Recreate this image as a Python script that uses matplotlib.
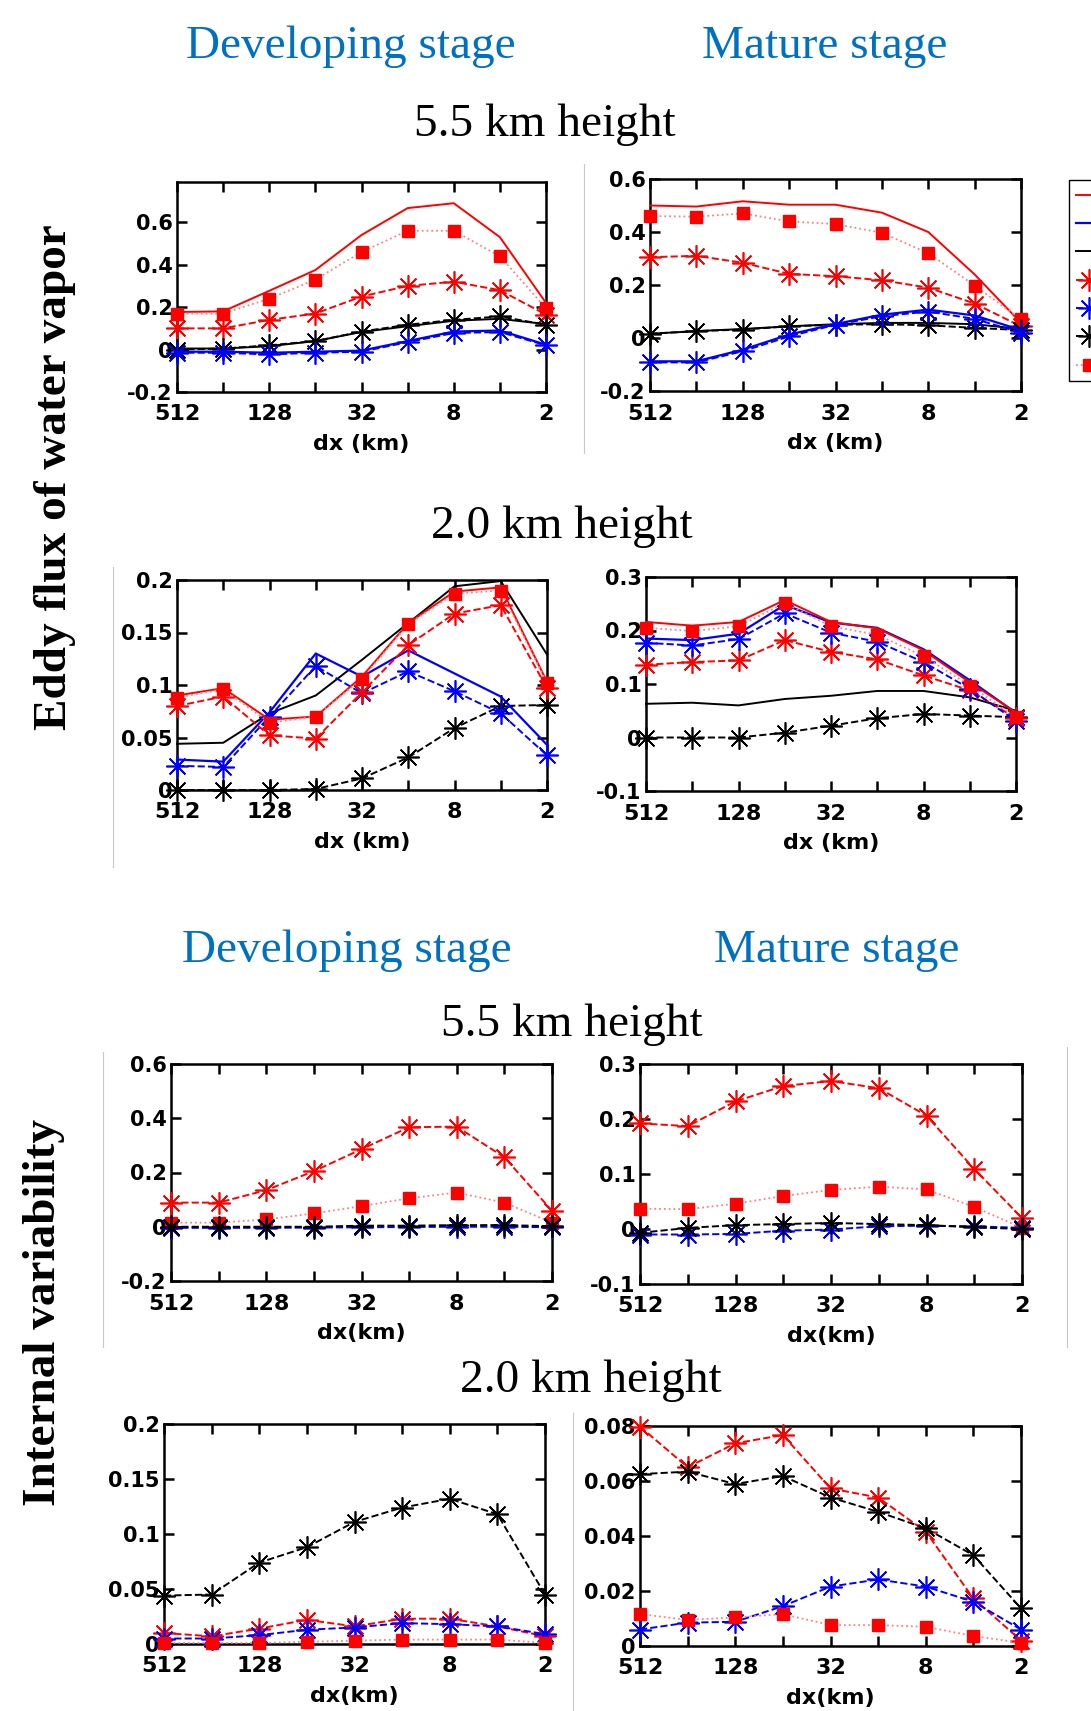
import matplotlib; matplotlib.use("Agg")
import matplotlib.pyplot as plt
from matplotlib.lines import Line2D

W,H=1091,1711
dx=[512,256,128,64,32,16,8,4,2]
xlab=["512","","128","","32","","8","","2"]

# eddy flux of water vapor, 5.5 km, developing stage
ef55d_red  =[0.177,0.18,0.277,0.375,0.54,0.667,0.69,0.53,0.22]
ef55d_blue =[-0.01,-0.01,-0.015,-0.01,-0.005,0.04,0.085,0.09,0.023]
ef55d_black=[0.005,0.005,0.016,0.04,0.083,0.11,0.136,0.145,0.12]
ef55d_red_a=[0.10,0.10,0.14,0.17,0.25,0.30,0.32,0.28,0.165]
ef55d_blue_a=[-0.015,-0.015,-0.023,-0.015,-0.01,0.035,0.078,0.083,0.02]
ef55d_black_a=[0.0,0.005,0.02,0.04,0.085,0.117,0.14,0.156,0.117]
ef55d_red_s=[0.17,0.17,0.24,0.33,0.46,0.56,0.56,0.44,0.195]
# 5.5 km, mature stage
ef55m_red  =[0.50,0.496,0.516,0.503,0.503,0.473,0.40,0.24,0.057]
ef55m_blue =[-0.088,-0.088,-0.044,0.013,0.053,0.088,0.107,0.085,0.03]
ef55m_black=[0.016,0.026,0.034,0.044,0.052,0.057,0.057,0.052,0.034]
ef55m_red_a=[0.305,0.31,0.284,0.242,0.233,0.218,0.19,0.13,0.044]
ef55m_blue_a=[-0.092,-0.092,-0.05,0.006,0.05,0.082,0.10,0.072,0.02]
ef55m_black_a=[0.016,0.026,0.032,0.044,0.05,0.052,0.048,0.038,0.03]
ef55m_red_s=[0.46,0.458,0.47,0.44,0.43,0.397,0.32,0.198,0.07]
# 2.0 km, developing stage
ef20d_red  =[0.09,0.097,0.067,0.07,0.108,0.159,0.189,0.193,0.103]
ef20d_blue =[0.029,0.027,0.074,0.13,0.108,0.133,0.111,0.089,0.043]
ef20d_black=[0.044,0.045,0.073,0.09,0.124,0.159,0.194,0.199,0.129]
ef20d_red_a=[0.08,0.089,0.052,0.049,0.093,0.138,0.168,0.176,0.097]
ef20d_blue_a=[0.023,0.022,0.07,0.118,0.092,0.113,0.094,0.073,0.033]
ef20d_black_a=[0.0,0.0,0.0,0.001,0.011,0.031,0.059,0.08,0.081]
ef20d_red_s=[0.088,0.096,0.064,0.07,0.106,0.158,0.187,0.19,0.102]
# 2.0 km, mature stage
ef20m_red  =[0.216,0.209,0.216,0.257,0.216,0.204,0.163,0.103,0.047]
ef20m_blue =[0.185,0.182,0.194,0.248,0.215,0.205,0.165,0.107,0.046]
ef20m_black=[0.063,0.065,0.06,0.072,0.078,0.087,0.087,0.075,0.05]
ef20m_red_a=[0.136,0.141,0.144,0.182,0.16,0.146,0.116,0.088,0.036]
ef20m_blue_a=[0.177,0.172,0.184,0.232,0.196,0.179,0.141,0.091,0.031]
ef20m_black_a=[0.0,0.0,0.0,0.009,0.022,0.036,0.044,0.041,0.038]
ef20m_red_s=[0.205,0.199,0.208,0.251,0.208,0.192,0.152,0.097,0.038]

# internal variability, 5.5 km, developing stage
iv55d_red_a=[0.089,0.089,0.135,0.205,0.286,0.367,0.369,0.256,0.059]
iv55d_blue_a=[-0.004,-0.004,-0.004,-0.003,-0.002,-0.001,0.0,0.0,-0.002]
iv55d_black_a=[0.0,0.0,0.0,0.0,0.004,0.004,0.006,0.006,0.002]
iv55d_red_s=[0.015,0.015,0.027,0.049,0.076,0.105,0.126,0.089,0.015]
# 5.5 km, mature stage
iv55m_red_a=[0.192,0.187,0.232,0.26,0.269,0.256,0.206,0.109,0.02]
iv55m_blue_a=[-0.01,-0.01,-0.009,-0.003,-0.001,0.005,0.006,0.005,0.002]
iv55m_black_a=[-0.007,0.002,0.007,0.009,0.011,0.009,0.007,0.003,0.0]
iv55m_red_s=[0.037,0.036,0.046,0.06,0.071,0.077,0.072,0.04,0.002]
# 2.0 km, developing stage
iv20d_red_a=[0.01,0.007,0.014,0.022,0.016,0.023,0.023,0.016,0.007]
iv20d_blue_a=[0.005,0.005,0.008,0.013,0.015,0.019,0.018,0.016,0.009]
iv20d_black_a=[0.044,0.045,0.074,0.088,0.111,0.124,0.132,0.118,0.045]
iv20d_red_s=[0.001,0.001,0.001,0.002,0.003,0.004,0.004,0.004,0.001]
# 2.0 km, mature stage
iv20m_red_a=[0.0798,0.065,0.0737,0.0767,0.0573,0.054,0.0416,0.0173,0.002]
iv20m_blue_a=[0.006,0.0085,0.0088,0.0145,0.0216,0.0242,0.0216,0.0161,0.006]
iv20m_black_a=[0.0625,0.0634,0.0589,0.0618,0.054,0.0488,0.0428,0.033,0.0137]
iv20m_red_s=[0.0116,0.0095,0.0104,0.0116,0.0076,0.0076,0.007,0.0036,0.0012]

AST=(8,2,0)
STY={"red":dict(color="red",ls="-",lw=1.4),
     "blue":dict(color="blue",ls="-",lw=1.6),
     "black":dict(color="black",ls="-",lw=1.4),
     "red_a":dict(color="red",ls="--",lw=1.4,marker=AST,ms=16,mew=1.2),
     "blue_a":dict(color="blue",ls="--",lw=1.4,marker=AST,ms=16,mew=1.2),
     "black_a":dict(color="black",ls="--",lw=1.4,marker=AST,ms=16,mew=1.2),
     "red_s":dict(color="#ff8080",ls=":",lw=1.3,marker="s",ms=9,mfc="red",mec="red")}

SANS="DejaVu Sans"; SERIF="Liberation Serif"
fig=plt.figure(figsize=(W/100,H/100),dpi=100)

def panel(box,ylim,yticks,series,xl):
    L,T,R,B=box
    ax=fig.add_axes([L/W,1-B/H,(R-L)/W,(B-T)/H])
    for key,y in series: ax.plot(dx,y,**STY[key],clip_on=False,zorder=3)
    ax.set_xscale("log",base=2); ax.set_xlim(512,2); ax.minorticks_off()
    ax.set_xticks(dx); ax.set_xticklabels(xlab)
    ax.set_ylim(*ylim); ax.set_yticks(yticks); ax.set_yticklabels([f"{v:g}" for v in yticks])
    ax.tick_params(direction="in",length=7.5,width=1.8,top=True,right=True,pad=3)
    ax.tick_params(axis="x",pad=9)
    for lb in ax.get_xticklabels(): lb.set(fontsize=16,fontweight="bold",family=SANS)
    for lb in ax.get_yticklabels(): lb.set(fontsize=15,fontweight="bold",family=SANS)
    for s in ax.spines.values(): s.set_linewidth(1.8)
    ax.set_xlabel(xl,fontsize=16,fontweight="bold",family=SANS)
    ax.xaxis.set_label_coords(0.5,-42/(B-T))
    return ax

panel((177,182,546,392),(-0.2,0.79),[-0.2,0,0.2,0.4,0.6],
      [("red",ef55d_red),("red_s",ef55d_red_s),("red_a",ef55d_red_a),("black",ef55d_black),
       ("black_a",ef55d_black_a),("blue",ef55d_blue),("blue_a",ef55d_blue_a)],"dx (km)")
panel((650,179,1021,391),(-0.2,0.6),[-0.2,0,0.2,0.4,0.6],
      [("red",ef55m_red),("red_s",ef55m_red_s),("red_a",ef55m_red_a),("black",ef55m_black),
       ("black_a",ef55m_black_a),("blue",ef55m_blue),("blue_a",ef55m_blue_a)],"dx (km)")
panel((177,580,547,790),(0,0.2),[0,0.05,0.1,0.15,0.2],
      [("black",ef20d_black),("black_a",ef20d_black_a),("blue",ef20d_blue),("blue_a",ef20d_blue_a),
       ("red_a",ef20d_red_a),("red",ef20d_red),("red_s",ef20d_red_s)],"dx (km)")
panel((646,577,1016,791),(-0.1,0.3),[-0.1,0,0.1,0.2,0.3],
      [("black",ef20m_black),("black_a",ef20m_black_a),("red_a",ef20m_red_a),("blue_a",ef20m_blue_a),
       ("blue",ef20m_blue),("red",ef20m_red),("red_s",ef20m_red_s)],"dx (km)")
panel((171,1064,552,1281),(-0.2,0.6),[-0.2,0,0.2,0.4,0.6],
      [("red_a",iv55d_red_a),("red_s",iv55d_red_s),("blue_a",iv55d_blue_a),("black_a",iv55d_black_a)],"dx(km)")
panel((640,1064,1022,1284),(-0.1,0.3),[-0.1,0,0.1,0.2,0.3],
      [("red_a",iv55m_red_a),("red_s",iv55m_red_s),("blue_a",iv55m_blue_a),("black_a",iv55m_black_a)],"dx(km)")
panel((164,1424,545,1644),(0,0.2),[0,0.05,0.1,0.15,0.2],
      [("black_a",iv20d_black_a),("red_a",iv20d_red_a),("blue_a",iv20d_blue_a),("red_s",iv20d_red_s)],"dx(km)")
panel((640,1426,1021,1646),(0,0.08),[0,0.02,0.04,0.06,0.08],
      [("red_a",iv20m_red_a),("black_a",iv20m_black_a),("blue_a",iv20m_blue_a),("red_s",iv20m_red_s)],"dx(km)")

# headings
BLUE="#0070c0"
def txt(x,y,s,**kw): fig.text(x/W,1-y/H,s,ha="center",va="baseline",family=SERIF,**kw)
txt(351,58,"Developing stage",fontsize=34,color=BLUE)
txt(825,58,"Mature stage",fontsize=34,color=BLUE)
txt(545,136,"5.5 km height",fontsize=34)
txt(562,538,"2.0 km height",fontsize=34)
txt(347,962,"Developing stage",fontsize=34,color=BLUE)
txt(837,962,"Mature stage",fontsize=34,color=BLUE)
txt(572,1036,"5.5 km height",fontsize=34)
txt(591,1392,"2.0 km height",fontsize=34)
fig.text(55/W,1-477/H,"Eddy flux of water vapor",rotation=90,ha="center",va="center",
         family=SERIF,fontweight="bold",fontsize=34)
fig.text(44/W,1-1312/H,"Internal variability",rotation=90,ha="center",va="center",
         family=SERIF,fontweight="bold",fontsize=34)

# thin borders of the pasted panels
for x,y0,y1 in [(584,164,453),(113,567,867),(103,1052,1347),(1067,1047,1347),(573,1413,1711)]:
    fig.add_artist(Line2D([x/W,x/W],[1-y0/H,1-y1/H],color="#c8c8c8",lw=0.8))

# legend cut at the right edge
hs=[Line2D([],[],**STY[k]) for k in ["red","blue","black","red_a","blue_a","black_a","red_s"]]
fig.legend(hs,[" "]*7,loc="upper left",bbox_to_anchor=(1069/W,1-180/H),fontsize=12,
           handlelength=1.6,handletextpad=0.4,labelspacing=0.62,borderaxespad=0,borderpad=0.4,
           frameon=True,fancybox=False,edgecolor="black",framealpha=1)

fig.savefig("out.png",dpi=100)
